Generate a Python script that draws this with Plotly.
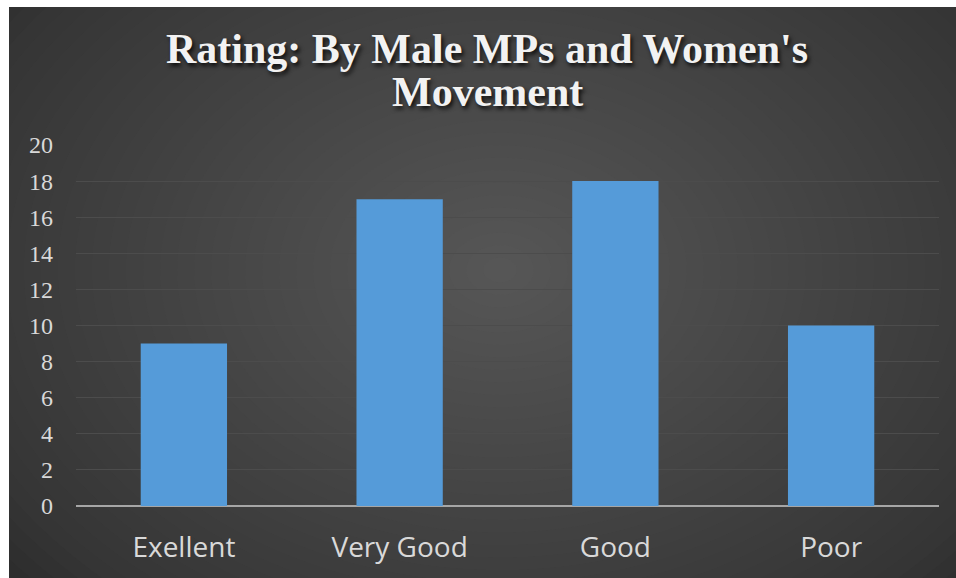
import plotly.graph_objects as go

categories = ["Exellent", "Very Good", "Good", "Poor"]
values = [9, 17, 18, 10]
y_ticks = list(range(0, 21, 2))
title_lines = ["Rating: By Male MPs and Women's", "Movement"]

W, H = 956, 578
ML, MR, MT, MB = 76, 17, 145, 72
PW, PH = W - ML - MR, H - MT - MB


def px2x(px):
    return (px - ML) / PW


def py2y(py):
    return (H - MB - py) / PH


fig = go.Figure()
fig.add_trace(go.Bar(
    x=categories, y=values,
    marker=dict(color="#559bd9", line=dict(width=0)),
))

shapes = []
cx, cy = 500, 270
n = 40
for i in range(n):
    r = 1 - i / n
    rx, ry = 680 * r, 500 * r
    shapes.append(dict(type="circle", xref="paper", yref="paper", layer="below",
                       x0=px2x(cx - rx), x1=px2x(cx + rx),
                       y0=py2y(cy + ry), y1=py2y(cy - ry),
                       fillcolor="rgba(130,130,130,0.02)", line=dict(width=0)))
shapes.append(dict(type="rect", xref="paper", yref="paper", layer="below",
                   x0=px2x(-300), x1=px2x(9), y0=py2y(H + 300), y1=py2y(-300),
                   fillcolor="white", line=dict(width=0)))
shapes.append(dict(type="rect", xref="paper", yref="paper", layer="below",
                   x0=px2x(-300), x1=px2x(W + 300), y0=py2y(7), y1=py2y(-300),
                   fillcolor="white", line=dict(width=0)))

title_font = dict(family="Liberation Serif", size=42, color="#f2f2f2",
                  weight="bold", shadow="2px 3px 4px rgba(0,0,0,0.8)")
annotations = []
for line, mid in zip(title_lines, [49, 92]):
    annotations.append(dict(text=line, xref="paper", yref="paper",
                            x=px2x(487), y=py2y(mid), xanchor="center",
                            yanchor="middle", showarrow=False, font=title_font))

fig.update_layout(
    width=W, height=H,
    margin=dict(l=ML, r=MR, t=MT, b=MB),
    paper_bgcolor="#272727",
    plot_bgcolor="rgba(0,0,0,0)",
    shapes=shapes,
    annotations=annotations,
    showlegend=False,
    bargap=0.6,
    xaxis=dict(
        showgrid=False, showline=False, zeroline=False,
        tickfont=dict(family="Open Sans", size=28, color="#d9d9d9"),
        ticks="", ticklabelstandoff=22,
    ),
    yaxis=dict(
        range=[0, 20], tickvals=y_ticks, ticktext=[str(v) for v in y_ticks],
        showgrid=True, gridcolor="#4c4c4c", gridwidth=1,
        zeroline=True, zerolinecolor="#a6a6a6", zerolinewidth=2,
        showline=False, ticks="",
        tickfont=dict(family="Liberation Serif", size=24, color="#d9d9d9"),
        ticklabelstandoff=22,
    ),
)

fig.write_html("out.html")
